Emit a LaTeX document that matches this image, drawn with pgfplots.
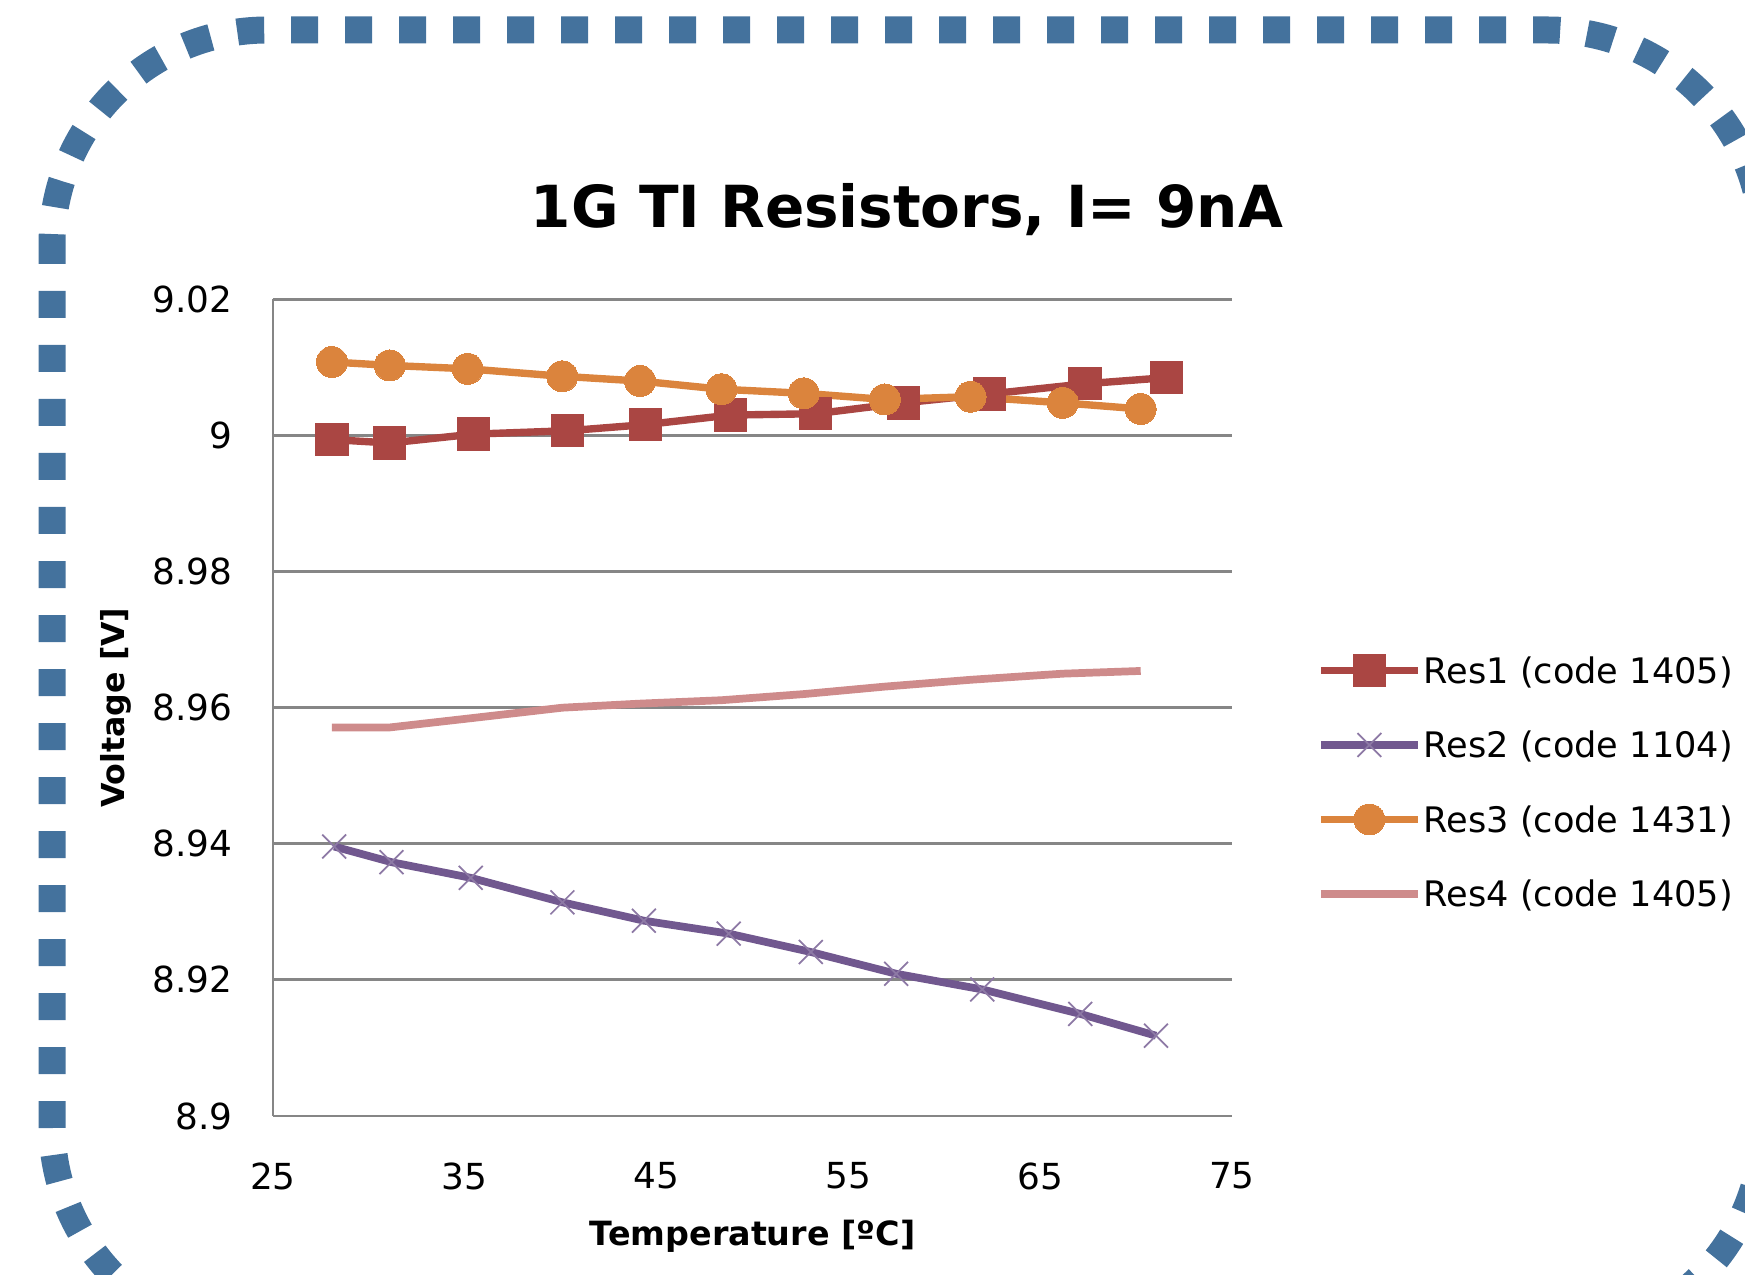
\documentclass[border=0pt]{standalone}
\usepackage{fontspec}
\setmainfont{DejaVu Sans}
\usepackage{pgfplots}
\pgfplotsset{compat=1.18}
\definecolor{resA}{RGB}{170,70,67}
\definecolor{resB}{RGB}{113,88,143}
\definecolor{resC}{RGB}{219,132,61}
\definecolor{resD}{RGB}{206,139,139}
\definecolor{gridc}{RGB}{134,134,134}
\definecolor{framec}{RGB}{68,114,157}
\begin{document}
\begin{tikzpicture}
\useasboundingbox (0,0) rectangle (17.45,12.75);
\begin{scope}
\clip (0,0) rectangle (17.45,12.75);
\draw[framec, line width=0.27cm, dash pattern=on 0.27cm off 0.27cm, dash phase=0.08cm, rounded corners=2.15cm] (0.52,12.45) rectangle (17.63,-0.65);
\end{scope}
\node[font=\bfseries\fontsize{16.5}{20}\selectfont, anchor=base] at (9.07,10.47) {1G TI Resistors, I= 9nA};
\begin{axis}[
  at={(2.73cm,1.59cm)}, anchor=south west,
  scale only axis, width=9.59cm, height=8.166cm,
  xmin=25, xmax=75, ymin=8.9, ymax=9.02,
  xtick={25,35,45,55,65,75},
  xticklabels={25,35,45,55,65,75},
  ytick={8.9,8.92,8.94,8.96,8.98,9,9.02},
  yticklabels={8.9,8.92,8.94,8.96,8.98,9,9.02},
  /pgf/number format/assume math mode=true,
  axis lines=left,
  axis line style={-, gridc, line width=0.8pt},
  ymajorgrids,
  major grid style={gridc, line width=0.8pt},
  major tick length=0pt,
  clip=false,
  yticklabel style={anchor=east, inner sep=0pt, xshift=-0.4cm, font=\fontsize{10.2}{12}\selectfont},
  xticklabel style={anchor=north, inner sep=0pt, yshift=-0.46cm, font=\fontsize{10.2}{12}\selectfont},
  xlabel={Temperature [ºC]},
  ylabel={Voltage [V]},
  every axis x label/.style={at={(axis description cs:0.5,-0.147)}, anchor=center, font=\bfseries\fontsize{9.5}{11}\selectfont},
  every axis y label/.style={at={(axis description cs:-0.1637,0.5)}, rotate=90, anchor=center, font=\bfseries\fontsize{9}{11}\selectfont},
  legend image code/.code={\draw[mark repeat=2, mark phase=2, #1] plot coordinates {(0cm,0cm) (0.485cm,0cm) (0.97cm,0cm)};},
  legend style={at={(axis description cs:1.0887,0.5664)}, anchor=north west,
    draw=none, fill=none, inner sep=0pt, outer sep=0pt,
    font=\fontsize{10}{12}\selectfont,
    cells={anchor=west},
    nodes={inner sep=0pt, text height=0.30cm, text depth=0.04cm},
    row sep=0.405cm, column sep=0.02cm},
]
\addplot[resA, line width=2.1pt, mark=square*, mark size=4.6pt, mark options={solid, fill=resA, draw=resA, line width=0pt}] coordinates {
 (28.07,8.9994) (31.09,8.9989) (35.44,9.0002) (40.37,9.0007) (44.43,9.0016) (48.84,9.0030)
 (53.30,9.0032) (57.88,9.0048) (62.35,9.0061) (67.34,9.0076) (71.57,9.0085)};
\addlegendentry{Res1 (code 1405)}
\addplot[resB, line width=2.2pt, mark=x, mark size=4.8pt, mark options={solid, draw=resB!80, line width=0.5pt}] coordinates {
 (28.19,8.9396) (31.18,8.9373) (35.31,8.9350) (40.09,8.9314) (44.34,8.9287) (48.76,8.9268)
 (53.04,8.9241) (57.49,8.9209) (61.98,8.9186) (67.09,8.9150) (71.04,8.9118)};
\addlegendentry{Res2 (code 1104)}
\addplot[resC, line width=2.1pt, mark=*, mark size=4.4pt, mark options={solid, fill=resC, draw=resC, line width=0pt}] coordinates {
 (28.07,9.0108) (31.09,9.0103) (35.15,9.0098) (40.08,9.0087) (44.14,9.0080) (48.38,9.0068)
 (52.67,9.0062) (56.90,9.0053) (61.37,9.0057) (66.18,9.0048) (70.24,9.0039)};
\addlegendentry{Res3 (code 1431)}
\addplot[resD, line width=2.2pt] coordinates {
 (28.07,8.9571) (31.09,8.9571) (35.15,8.9584) (40.08,8.9600) (44.14,8.9606) (48.38,8.9611)
 (52.67,8.9620) (56.90,8.9631) (61.37,8.9641) (66.18,8.9650) (70.24,8.9654)};
\addlegendentry{Res4 (code 1405)}
\end{axis}
\end{tikzpicture}
\end{document}
